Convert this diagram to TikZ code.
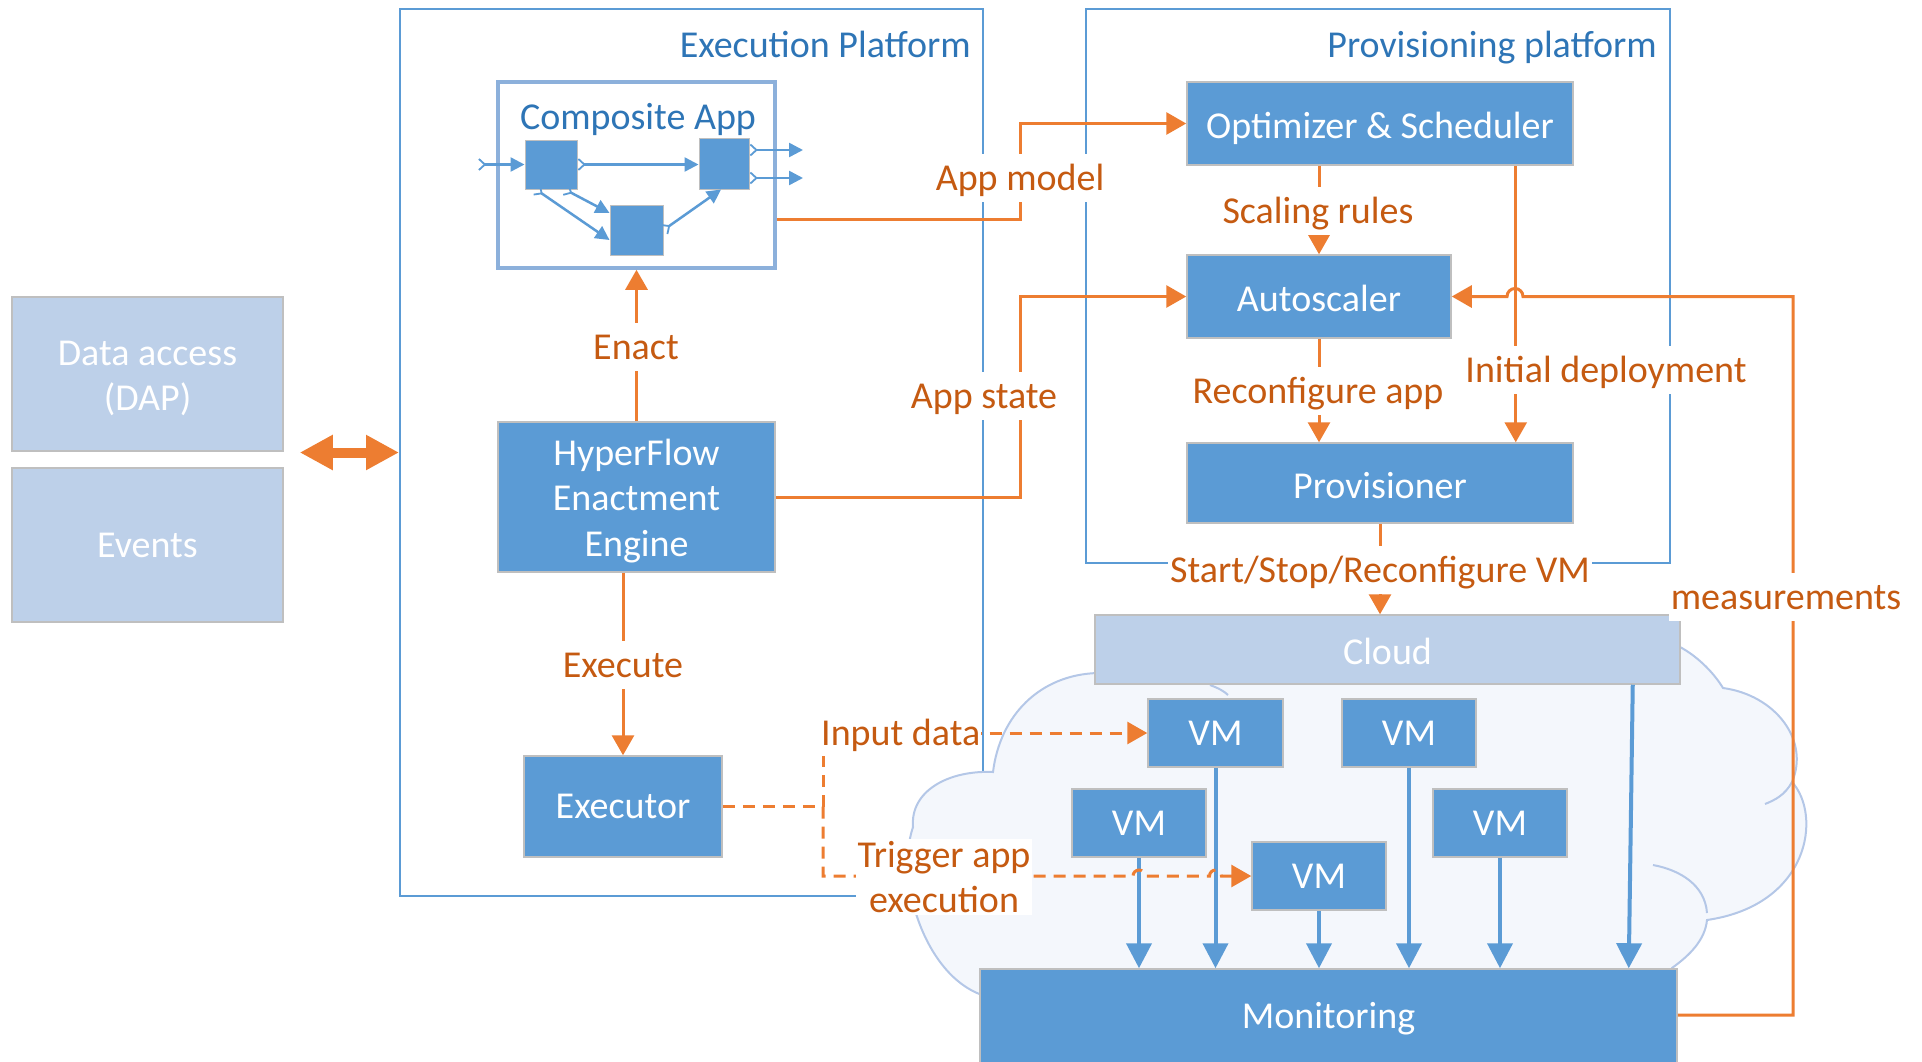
\documentclass[tikz,border=0pt]{standalone}
\usepackage{fontspec}
\setmainfont{Carlito}
\usetikzlibrary{arrows.meta,calc}
\definecolor{bfill}{HTML}{5B9BD5}
\definecolor{lfill}{HTML}{BDD0E9}
\definecolor{oline}{HTML}{ED7D31}
\definecolor{otext}{HTML}{C55A11}
\definecolor{tblue}{HTML}{2E75B6}
\definecolor{fblue}{HTML}{5B9BD5}
\definecolor{compline}{HTML}{8CB0DB}
\definecolor{cloudline}{HTML}{B4C7E7}
\definecolor{cloudfill}{HTML}{F4F7FC}
\definecolor{bborder}{HTML}{BFBFBF}
\begin{document}
\begin{tikzpicture}[x=1pt,y=-1pt,
  txt/.style={font=\fontsize{38pt}{45.5pt}\selectfont},
  oneline/.style={text height=34pt, text depth=9.5pt},
  lowline/.style={text height=37pt, text depth=7pt},
  bluebox/.style={txt, draw=bborder, line width=1.5pt, fill=bfill, text=white, align=center, inner sep=0pt},
  lightbox/.style={bluebox, fill=lfill},
  boxtext/.style={txt, text=white, align=center, inner sep=0pt},
  frame/.style={draw=fblue, line width=2pt, inner sep=0pt},
  lbl/.style={txt, text=otext, fill=white, inner sep=2pt, align=center},
  titletext/.style={txt, oneline, text=tblue, inner sep=0pt},
  oconn/.style={draw=oline, line width=3pt},
  oarrow/.style={oconn, -{Triangle[width=22pt,length=20pt]}},
  odash/.style={oconn, dash pattern=on 12pt off 8pt},
  barrow/.style={draw=bfill, line width=4pt, -{Triangle[width=25pt,length=25pt]}},
  sarrow/.style={draw=bfill, line width=2.5pt, {Straight Barb[reversed,length=6pt,width=11pt,line width=1.8pt]}-{Triangle[width=14pt,length=14pt]}},
  sq/.style={draw=bborder, line width=1pt, fill=bfill, inner sep=0pt},
  cloudstroke/.style={draw=cloudline, line width=2pt},
]
\useasboundingbox (0,0) rectangle (1922,1061);

% frames
\node[frame, minimum width=583pt, minimum height=887pt] (execf) at (691.5,452.5) {};
\node[frame, minimum width=584pt, minimum height=554pt] (provf) at (1378,286) {};
\node[titletext, anchor=east] (exectitle) at (971,45) {Execution Platform};
\node[titletext, anchor=east] (provtitle) at (1657,45) {Provisioning platform};

% cloud
\path[cloudstroke, fill=cloudfill] (982,995) .. controls (925,975) and (895,880) .. (913,827)
  .. controls (910,790) and (950,770) .. (993,772)
  .. controls (1000,715) and (1040,675) .. (1097,673)
  -- (1680,647) .. controls (1695,655) and (1712,670) .. (1723,688)
  .. controls (1775,695) and (1810,740) .. (1792,782)
  .. controls (1822,815) and (1810,905) .. (1707,920)
  .. controls (1705,940) and (1690,955) .. (1672,968)
  -- (1672,1010) -- (982,1010) -- cycle;
\draw[cloudstroke] (1792,782) .. controls (1785,795) and (1775,800) .. (1765,804);
\draw[cloudstroke] (1653,865) .. controls (1680,870) and (1705,885) .. (1707,913);
\draw[cloudstroke] (1210,685) .. controls (1218,688) and (1224,691) .. (1228,695);

% left boxes
\node[lightbox, minimum width=271pt, minimum height=154pt] (dap) at (147.5,374) {};
\node[boxtext] (daptext) at (147.5,378.5) {Data access\\(DAP)};
\node[lightbox, oneline, minimum width=271pt, minimum height=154pt] (events) at (147.5,545) {Events};

% composite app
\node[draw=compline, line width=3.5pt, fill=white, minimum width=277pt, minimum height=186pt, inner sep=0pt] (comp) at (636.5,175) {};
\node[titletext] (comptitle) at (638,117) {Composite App};
\node[sq, minimum width=52pt, minimum height=49pt] (s1) at (551,164.5) {};
\node[sq, minimum width=50pt, minimum height=51pt] (s2) at (724,163.5) {};
\node[sq, minimum width=53pt, minimum height=50pt] (s3) at (636.5,230) {};
\coordinate (inL) at (478,164.5);
\draw[sarrow] (inL) -- (s1.west);
\draw[sarrow] (s1.east) -- (s1.east -| s2.west);
\draw[sarrow] ([xshift=-15pt]s1.south) -- ([yshift=-10pt]s3.west);
\draw[sarrow] ([xshift=14pt]s1.south) -- ([yshift=17pt]s3.west);
\draw[sarrow] (s3.east) -- ([xshift=-3pt]s2.south);
\coordinate (out1) at (803,150);
\coordinate (out2) at (803,178);
\draw[sarrow] (s2.east |- out1) -- (out1);
\draw[sarrow] (s2.east |- out2) -- (out2);

% execution boxes
\node[bluebox, minimum width=277pt, minimum height=150pt] (hyper) at (636.5,497) {};
\node[boxtext] (hypertext) at (636.5,501) {HyperFlow\\Enactment\\Engine};
\node[bluebox, oneline, minimum width=198pt, minimum height=101pt] (executor) at (623,806.5) {Executor};

% provisioning boxes
\node[bluebox, lowline, minimum width=386pt, minimum height=83pt] (opt) at (1380,123.5) {Optimizer \& Scheduler};
\node[bluebox, lowline, minimum width=264pt, minimum height=83pt] (auto) at (1319,296.5) {Autoscaler};
\node[bluebox, lowline, minimum width=386pt, minimum height=80pt] (prov) at (1380,483) {Provisioner};

% cloud boxes
\node[lightbox, lowline, minimum width=585pt, minimum height=69pt] (cloudbar) at (1387.5,649.5) {Cloud};
\node[bluebox, oneline, minimum width=135pt, minimum height=68pt] (vm1) at (1215.5,733) {VM};
\node[bluebox, oneline, minimum width=134pt, minimum height=68pt] (vm2) at (1409,733) {VM};
\node[bluebox, oneline, minimum width=134pt, minimum height=68pt] (vm3) at (1139,823) {VM};
\node[bluebox, oneline, minimum width=134pt, minimum height=68pt] (vm4) at (1319,876) {VM};
\node[bluebox, oneline, minimum width=134pt, minimum height=68pt] (vm5) at (1500,823) {VM};
\node[bluebox, oneline, minimum width=697pt, minimum height=94pt] (mon) at (1328.5,1016) {Monitoring};

% blue arrows to monitoring
\draw[barrow] (vm3.south) -- (vm3.south |- mon.north);
\draw[barrow] (vm1.south) -- (vm1.south |- mon.north);
\draw[barrow] (vm4.south) -- (vm4.south |- mon.north);
\draw[barrow] (vm2.south) -- (vm2.south |- mon.north);
\draw[barrow] (vm5.south) -- (vm5.south |- mon.north);
\draw[barrow] ([xshift=-48pt]cloudbar.south east) -- ([xshift=-49pt]mon.north east);

% double arrow
\path (dap.east |- execf.west) ++(16,0) coordinate (dblL);
\draw[draw=oline, line width=10pt, {Triangle[width=33pt,length=33pt]}-{Triangle[width=33pt,length=33pt]}] (dblL) -- (execf.west);

% orange connectors
\coordinate (amc) at (1020,219);
\draw[oarrow] (comp.east |- amc) -- (amc) |- (opt.west);
\coordinate (asc) at (1020,497);
\draw[oarrow] (hyper.east) -- (asc) |- (auto.west);
\draw[oarrow] (hyper.north) -- (comp.south);
\draw[oarrow] (hyper.south -| executor.north) -- (executor.north);
\draw[oarrow] (opt.south -| auto.north) -- (auto.north);
\draw[oarrow] (auto.south) -- (auto.south |- prov.north);
\draw[oarrow] ([xshift=-58pt]opt.south east) -- ([xshift=-58pt]prov.north east);
\draw[oarrow] (prov.south) -- (prov.south |- cloudbar.north);
\coordinate (mc) at (1793,1015);
\coordinate (mtop) at (1793,296.5);
\draw[oarrow] (mon.east |- mc) -- (mc) -- (mtop) -- (1523,296.5) arc[start angle=0,end angle=180,radius=8pt] -- (auto.east);

% dashed connectors
\coordinate (jn) at (823,806.5);
\draw[odash] (executor.east) -- (jn);
\draw[odash, -{Triangle[width=22pt,length=20pt]}] (jn) -- (jn |- vm1.west) -- (vm1.west);
\draw[odash, -{Triangle[width=22pt,length=20pt]}] (jn) -- (jn |- vm4.west) -- (1133,876)
  arc[start angle=180,end angle=0,radius=6pt] -- (1209.5,876)
  arc[start angle=180,end angle=0,radius=6pt] -- (vm4.west);

% labels
\node[lbl, oneline] (lam) at (1020,178) {App model};
\node[lbl, oneline] (las) at (984,396) {App state};
\node[lbl, oneline] (len) at (636,347) {Enact};
\node[lbl, oneline] (lex) at (623,665) {Execute};
\node[lbl, oneline] (lsr) at (1318,211) {Scaling rules};
\node[lbl, oneline] (lra) at (1318,391) {Reconfigure app};
\node[lbl, oneline] (lid) at (1606,370) {Initial deployment};
\node[lbl, oneline] (lss) at (1380,570) {Start/Stop/Reconfigure VM};
\node[lbl, oneline] (lme) at (1786,597) {measurements};
\node[lbl, oneline, anchor=west, inner sep=1pt] (lin) at (820,733) {Input data};
\node[lbl] (ltr) at (944,877) {Trigger app\\execution};
\end{tikzpicture}
\end{document}
